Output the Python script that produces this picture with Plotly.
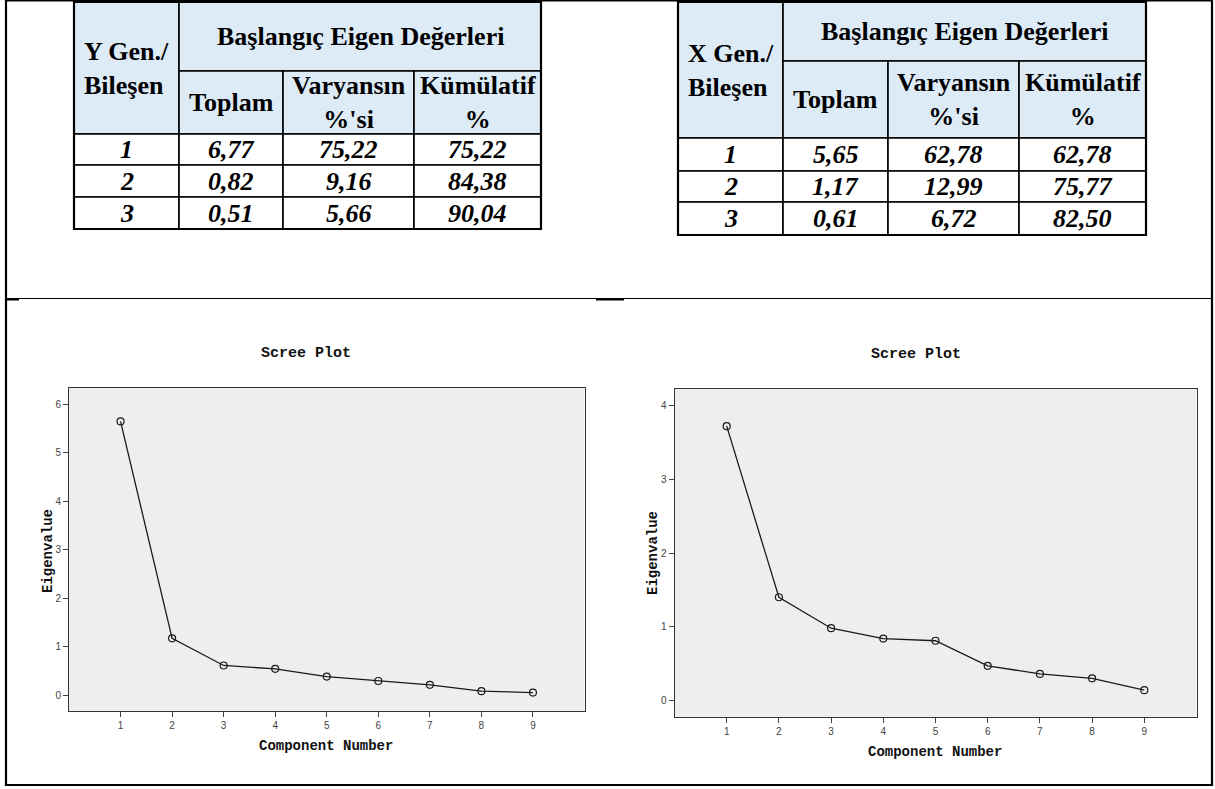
import plotly.graph_objects as go

# ---------------- data ----------------
components = [1, 2, 3, 4, 5, 6, 7, 8, 9]
scree_left = [5.65, 1.17, 0.61, 0.54, 0.38, 0.29, 0.21, 0.08, 0.05]
scree_right = [3.72, 1.40, 0.98, 0.84, 0.81, 0.47, 0.36, 0.30, 0.14]

row_labels = ["1", "2", "3"]
y_total = ["6,77", "0,82", "0,51"]
y_var = ["75,22", "9,16", "5,66"]
y_cum = ["75,22", "84,38", "90,04"]
x_total = ["5,65", "1,17", "0,61"]
x_var = ["62,78", "12,99", "6,72"]
x_cum = ["62,78", "75,77", "82,50"]

header_group = "Başlangıç Eigen Değerleri"
sub_headers = ["Toplam", "Varyansın<br>%'si", "Kümülatif<br>%"]

W, H = 1215, 789
SERIF = "Liberation Serif"
MONO = "Liberation Mono"
HDR_FILL = "#DDEBF7"
PLOT_BG = "#EEEEEE"

fig = go.Figure()

# ---------------- scree plots ----------------
def px_x(p):
    return p / W

def px_y(p):
    return 1 - p / H

for xs, ys, vals in [("x", "y", scree_left), ("x2", "y2", scree_right)]:
    fig.add_trace(go.Scatter(x=components, y=vals, mode="lines+markers",
                             line=dict(color="#1a1a1a", width=1.3),
                             marker=dict(symbol="circle-open", size=7, color="#1a1a1a",
                                         line=dict(width=1.2)),
                             xaxis=xs, yaxis=ys, showlegend=False, cliponaxis=False))

axis_common = dict(showgrid=False, zeroline=False, showline=True, mirror=True,
                   linecolor="#333333", linewidth=1, ticks="outside", ticklen=5,
                   tickcolor="#444444", tickwidth=1,
                   tickfont=dict(family="Liberation Sans", size=10, color="#444444"))

layout = dict(
    width=W, height=H, margin=dict(l=0, r=0, t=0, b=0),
    paper_bgcolor="white", plot_bgcolor="white", showlegend=False,
    xaxis=dict(domain=[px_x(69), px_x(584.5)], range=[0, 10], tickvals=components,
               anchor="y", **axis_common),
    yaxis=dict(domain=[px_y(711), px_y(388)], range=[-0.33, 6.34], tickvals=[0, 1, 2, 3, 4, 5, 6],
               anchor="x", **axis_common),
    xaxis2=dict(domain=[px_x(674.5), px_x(1196.5)], range=[0, 10], tickvals=components,
                anchor="y2", **axis_common),
    yaxis2=dict(domain=[px_y(716.7), px_y(389.3)], range=[-0.22, 4.22], tickvals=[0, 1, 2, 3, 4],
                anchor="x2", **axis_common),
)

annotations = []
shapes = []

# scree plot backgrounds
for xr, yr in [("x", "y"), ("x2", "y2")]:
    shapes.append(dict(type="rect", xref=f"{xr} domain", yref=f"{yr} domain", x0=0, x1=1, y0=0, y1=1,
                       fillcolor=PLOT_BG, line=dict(width=0), layer="below"))

# chart titles / axis titles
for cx, ty, ex, ey, cnx, cny in [(306, 353, 48, 551, 326, 746),
                                   (916, 354, 653, 553, 935, 752)]:
    annotations.append(dict(text="<b>Scree Plot</b>", x=px_x(cx), y=px_y(ty), xref="paper", yref="paper",
                            showarrow=False, xanchor="center", yanchor="middle",
                            font=dict(family=MONO, size=15, color="#111")))
    annotations.append(dict(text="<b>Eigenvalue</b>", x=px_x(ex), y=px_y(ey), xref="paper", yref="paper",
                            showarrow=False, xanchor="center", yanchor="middle", textangle=-90,
                            font=dict(family=MONO, size=14, color="#111")))
    annotations.append(dict(text="<b>Component Number</b>", x=px_x(cnx), y=px_y(cny), xref="paper", yref="paper",
                            showarrow=False, xanchor="center", yanchor="middle",
                            font=dict(family=MONO, size=14, color="#111")))

# ---------------- tables ----------------
PAD = 4

def build_table(idx, left, top, col_w, row_h, first_header, totals, variances, cumulative):
    xa, ya = f"xaxis{idx}", f"yaxis{idx}"
    xr, yr = f"x{idx}", f"y{idx}"
    tw, th = sum(col_w), sum(row_h)
    tpad = min(PAD, top)
    layout[xa] = dict(domain=[px_x(left - PAD), px_x(left + tw + PAD)], range=[-PAD, tw + PAD],
                      visible=False, anchor=yr, fixedrange=True)
    layout[ya] = dict(domain=[px_y(top + th + PAD), px_y(top - tpad)], range=[th + PAD, -tpad],
                      visible=False, anchor=xr, fixedrange=True)
    cx = [0]
    for w in col_w:
        cx.append(cx[-1] + w)
    ry = [0]
    for h in row_h:
        ry.append(ry[-1] + h)

    def cell(c0, c1, r0, r1, fill, text, font):
        shapes.append(dict(type="rect", xref=xr, yref=yr, x0=cx[c0], x1=cx[c1], y0=ry[r0], y1=ry[r1],
                           fillcolor=fill, line=dict(color="black", width=1.6), layer="below"))
        annotations.append(dict(text=text, x=(cx[c0] + cx[c1]) / 2, y=(ry[r0] + ry[r1]) / 2,
                                xref=xr, yref=yr, showarrow=False, xanchor="center", yanchor="middle",
                                align="left" if c0 == 0 and r0 == 0 else "center", font=font))

    hfont = dict(family=SERIF, size=26, color="black")
    cell(0, 1, 0, 2, HDR_FILL, "<b>" + first_header + "</b>", hfont)
    cell(1, 4, 0, 1, HDR_FILL, "<b>" + header_group + "</b>", hfont)
    for j, t in enumerate(sub_headers):
        cell(1 + j, 2 + j, 1, 2, HDR_FILL, "<b>" + t + "</b>", hfont)
    dfont = dict(family=SERIF, size=26, color="black")
    for i in range(3):
        vals = [row_labels[i], totals[i], variances[i], cumulative[i]]
        for j, v in enumerate(vals):
            cell(j, j + 1, 2 + i, 3 + i, "white", "<b><i>" + v + "</i></b>", dfont)
    # thicker outer border
    shapes.append(dict(type="rect", xref=xr, yref=yr, x0=0, x1=tw, y0=0, y1=th,
                       line=dict(color="black", width=2.2), fillcolor="rgba(0,0,0,0)"))

build_table(3, 74, 2, [105, 104, 131, 127], [69, 63, 31, 32, 32],
            "Y Gen./<br>Bileşen", y_total, y_var, y_cum)
build_table(4, 678, 2, [105, 105, 131, 127], [59, 77, 33, 31, 33],
            "X Gen./<br>Bileşen", x_total, x_var, x_cum)

# ---------------- page frame ----------------
shapes.append(dict(type="rect", xref="paper", yref="paper", x0=px_x(6), x1=px_x(1212),
                   y0=px_y(785), y1=px_y(0.5), line=dict(color="black", width=2.2)))
shapes.append(dict(type="line", xref="paper", yref="paper", x0=px_x(6), x1=px_x(1212),
                   y0=px_y(298.5), y1=px_y(298.5), line=dict(color="black", width=1)))
shapes.append(dict(type="line", xref="paper", yref="paper", x0=px_x(596), x1=px_x(624),
                   y0=px_y(299.5), y1=px_y(299.5), line=dict(color="black", width=2)))
shapes.append(dict(type="line", xref="paper", yref="paper", x0=px_x(7), x1=px_x(19),
                   y0=px_y(299.5), y1=px_y(299.5), line=dict(color="black", width=2)))

layout["annotations"] = annotations
layout["shapes"] = shapes
fig.update_layout(**layout)

fig.write_html("out.html")
